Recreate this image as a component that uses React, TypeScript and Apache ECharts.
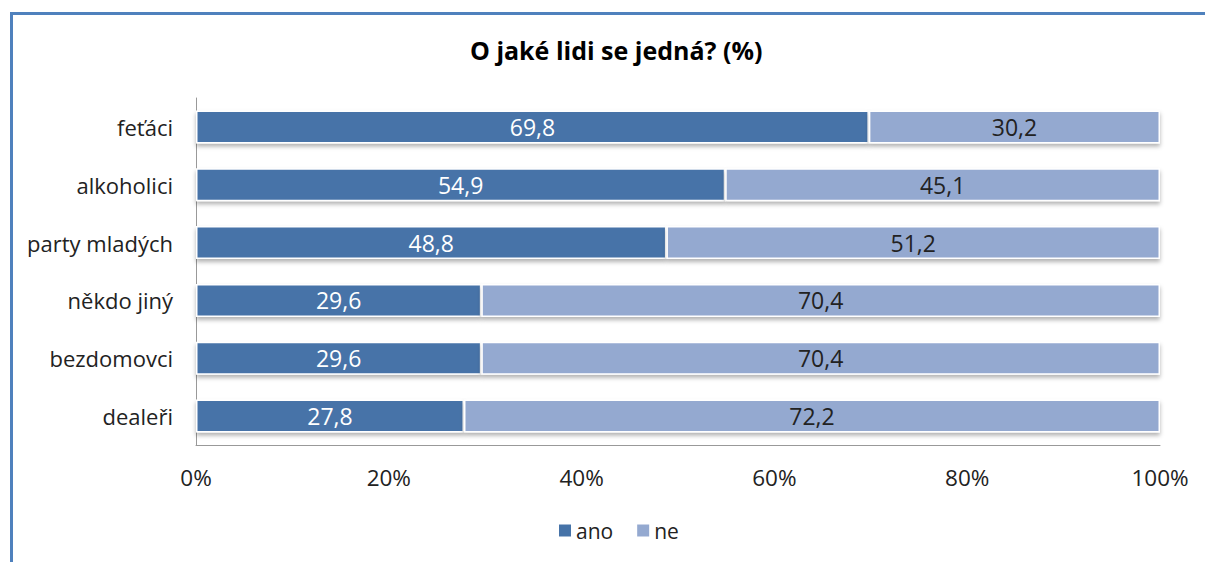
import React, { useEffect, useRef } from "react";
import * as echarts from "echarts";

const categories = ["feťáci", "alkoholici", "party mladých", "někdo jiný", "bezdomovci", "dealeři"];
const anoValues = [69.8, 54.9, 48.8, 29.6, 29.6, 27.8];
const neValues = [30.2, 45.1, 51.2, 70.4, 70.4, 72.2];
const xTicks = [0, 20, 40, 60, 80, 100];

const FONT = "'Open Sans', sans-serif";

export default function App() {
  const ref = useRef<HTMLDivElement>(null);
  useEffect(() => {
    if (!ref.current) return;
    const chart = echarts.init(ref.current, undefined, { renderer: "svg" });
    const fmt = (v: number) => v.toFixed(1).replace(".", ",");
    const barCommon = {
      type: "bar",
      stack: "total",
      barWidth: 33,
      label: {
        show: true,
        position: "inside",
        fontFamily: FONT,
        fontSize: 23,
        formatter: (p: any) => fmt(p.value),
      },
    };
    chart.setOption({
      animation: false,
      textStyle: { fontFamily: FONT },
      title: {
        text: "O jaké lidi se jedná? (%)",
        left: 465,
        top: 32,
        textStyle: { fontFamily: FONT, fontSize: 25, fontWeight: "bold", color: "#000" },
      },
      legend: {
        bottom: 16,
        left: 554,
        icon: "rect",
        itemWidth: 12,
        itemHeight: 12,
        itemGap: 24,
        itemStyle: { borderWidth: 0 },
        textStyle: { fontFamily: FONT, fontSize: 21, color: "#222" },
        data: ["ano", "ne"],
      },
      grid: { left: 196, right: 45, top: 98, bottom: 117, containLabel: false },
      xAxis: {
        type: "value",
        min: 0,
        max: 100,
        interval: 20,
        axisLine: { show: true, lineStyle: { color: "#999", width: 1 } },
        axisTick: { show: false },
        splitLine: { show: false },
        axisLabel: {
          fontFamily: FONT,
          fontSize: 22.5,
          color: "#222",
          margin: 21,
          formatter: (v: number) => (xTicks.includes(v) ? v + "%" : ""),
        },
      },
      yAxis: {
        type: "category",
        inverse: true,
        data: categories,
        axisLine: { show: true, lineStyle: { color: "#999", width: 1 } },
        axisTick: { show: false },
        axisLabel: { fontFamily: FONT, fontSize: 22, color: "#222", margin: 23 },
      },
      series: [
        {
          ...barCommon,
          name: "ano",
          data: anoValues,
          itemStyle: {
            color: "#4673a8",
            borderColor: "#ffffff",
            borderWidth: 1.5,
            shadowColor: "rgba(0,0,0,0.3)",
            shadowBlur: 4,
            shadowOffsetY: 3,
          },
          label: { ...barCommon.label, color: "#ffffff" },
        },
        {
          ...barCommon,
          name: "ne",
          data: neValues,
          itemStyle: {
            color: "#94a9d0",
            borderColor: "#ffffff",
            borderWidth: 1.5,
            shadowColor: "rgba(0,0,0,0.3)",
            shadowBlur: 4,
            shadowOffsetY: 3,
          },
          label: { ...barCommon.label, color: "#222222" },
        },
      ],
      graphic: [
        { type: "line", shape: { x1: 11, y1: 13.5, x2: 1205, y2: 13.5 }, style: { stroke: "#4f81bd", lineWidth: 3 } },
        { type: "line", shape: { x1: 11.5, y1: 12, x2: 11.5, y2: 562 }, style: { stroke: "#4f81bd", lineWidth: 3 } },
      ],
    });
    return () => chart.dispose();
  }, []);
  return (
    <div
      ref={ref}
      style={{ position: "fixed", left: 0, top: 0, width: 1205, height: 562, background: "#fff" }}
    />
  );
}
